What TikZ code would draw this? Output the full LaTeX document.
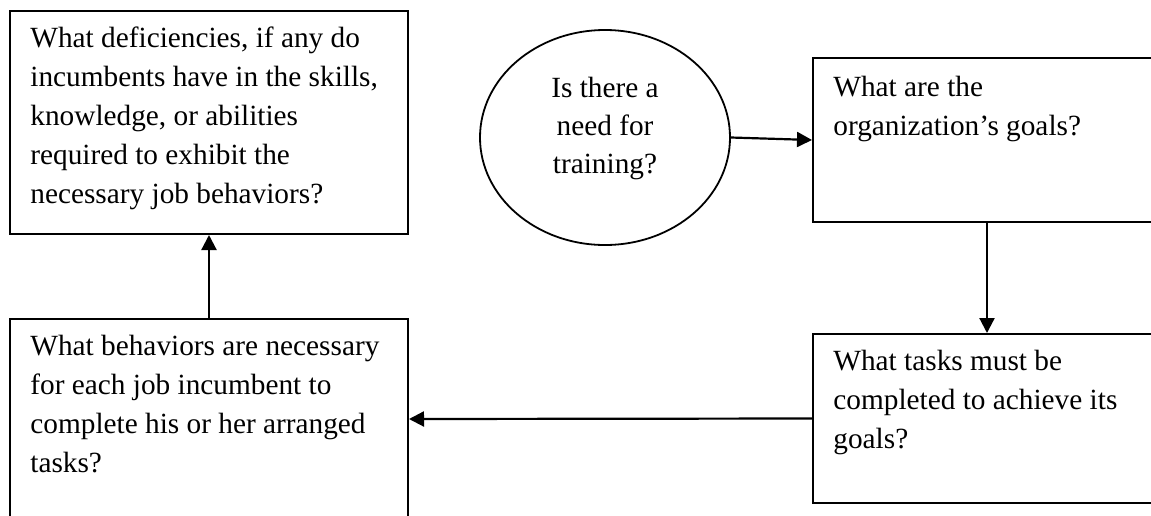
\documentclass[tikz,border=0pt]{standalone}
\usepackage{fontspec}
\setmainfont{Liberation Serif}
\usetikzlibrary{arrows.meta,shapes.geometric}
\begin{document}
\begin{tikzpicture}[x=0.5pt,y=-0.5pt,
  qbox/.style={draw, line width=1pt, rectangle, inner sep=0pt, anchor=north west},
  qoval/.style={draw, line width=0.9pt, ellipse, inner sep=0pt,
    minimum width=125pt, minimum height=107.5pt},
  % multi-line nodes: the base anchor sits on the last line
  qtext/.style={anchor=base west, align=left, inner sep=0pt,
    font=\fontsize{14.65}{19.5}\selectfont},
  qotext/.style={anchor=base, align=center, inner sep=0pt,
    font=\fontsize{14.65}{19}\selectfont},
  flow/.style={line width=1.1pt, -{Triangle[length=7.5pt,width=7.5pt]}}]
\useasboundingbox (0,0) rectangle (1151,515);
\clip (0,0) rectangle (1151,515);

% question boxes
\node[qbox, minimum width=199pt, minimum height=111.5pt] (skills) at (9,10) {};
\node[qbox, minimum width=174pt, minimum height=82pt] (goals) at (812,57) {};
\node[qbox, minimum width=174pt, minimum height=84.5pt] (tasks) at (812,333) {};
\node[qbox, minimum width=199pt, minimum height=100pt] (behav) at (9,318) {};
\node[qoval] (need) at (605,137.5) {};

% texts
\node[qtext] (skillsT) at (30,203) {What deficiencies, if any do\\incumbents have in the skills,\\knowledge, or abilities\\required to exhibit the\\necessary job behaviors?};
\node[qtext] (goalsT) at (833,135) {What are the\\organization’s goals?};
\node[qtext] (tasksT) at (833,448) {What tasks must be\\completed to achieve its\\goals?};
\node[qtext] (behavT) at (30,472) {What behaviors are necessary\\for each job incumbent to\\complete his or her arranged\\tasks?};
\node[qotext] (needT) at (605,173) {Is there a\\need for\\training?};

% connectors
\draw[flow] (need.east) -- (goals.west);
\draw[flow] (goals.south) -- (tasks.north);
\draw[flow] (tasks.west) -- (behav.east);
\draw[flow] (behav.north) -- (skills.south);
\end{tikzpicture}
\end{document}
